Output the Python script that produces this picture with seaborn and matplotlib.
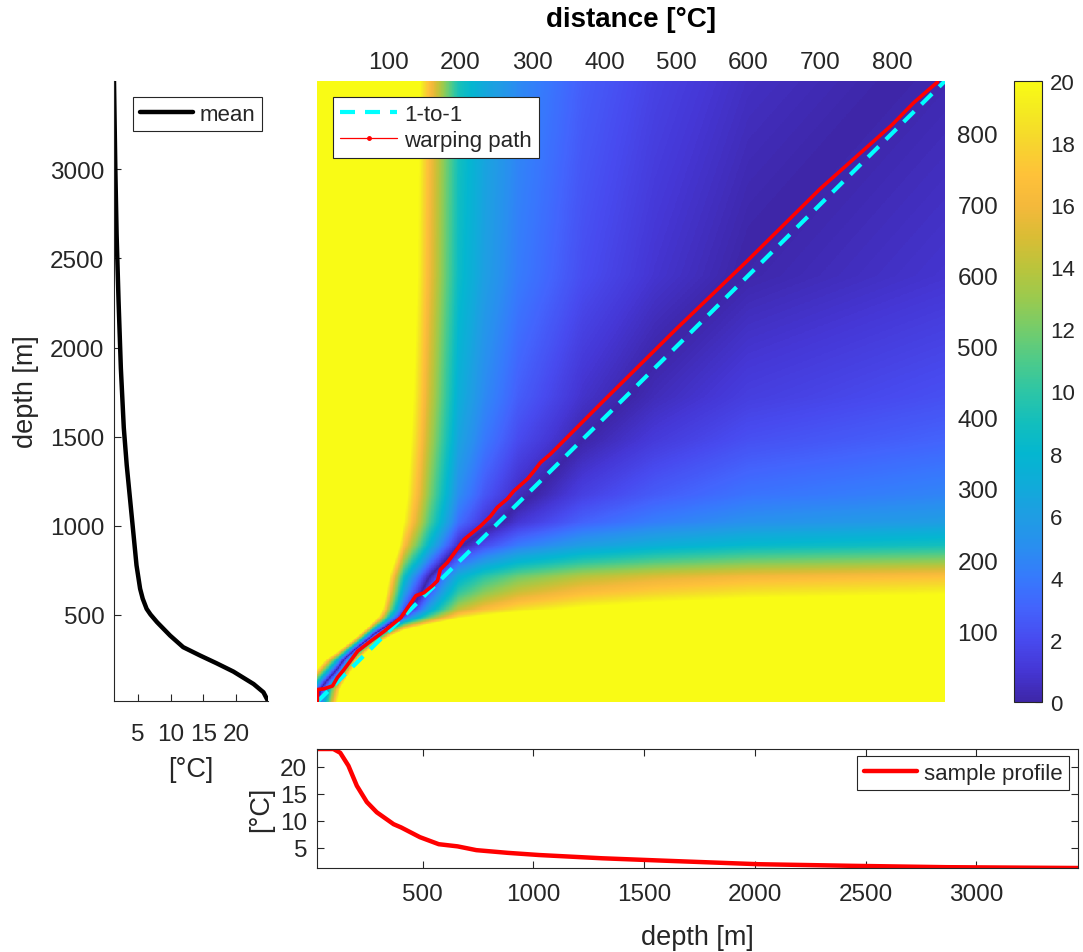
import numpy as np
import pandas as pd
import matplotlib
matplotlib.use("Agg")
import matplotlib.pyplot as plt
import seaborn as sns
from matplotlib.colors import LinearSegmentedColormap
from matplotlib.lines import Line2D

# ---------------- data ----------------
mean_depth = [17, 66, 112, 182, 229, 272, 319, 384, 459, 502, 534, 591, 647, 778, 966,
              1153, 1340, 1550, 1884, 2259, 2634, 3009, 3495]
mean_temp = [24.9, 24.2, 22.7, 19.6, 17.0, 14.5, 11.9, 9.9, 7.9, 6.9, 6.3, 5.7, 5.3, 4.75,
             4.25, 3.75, 3.25, 2.8, 2.35, 2.0, 1.7, 1.5, 1.3]

sample_depth = [22, 96, 127, 164, 202, 247, 292, 368, 402, 487, 572, 657, 742,
                884, 1025, 1309, 1592, 2017, 2442, 2867, 3460]
sample_temp = [23.3, 23.3, 22.6, 20.2, 16.5, 13.5, 11.6, 9.4, 8.8, 7.0, 5.7, 5.3, 4.6,
               4.1, 3.7, 3.1, 2.65, 2.0, 1.7, 1.45, 1.3]

# distance-matrix coordinates (level index -> value, °C)
n_levels = 873
mean_levels = [1, 18, 30, 44, 60, 75, 91, 105, 110, 119, 131, 145, 155, 176, 197,
               221, 253, 292, 370, 430, 600, 873]
mean_values = [122, 119, 113, 104, 94, 78, 58, 42, 36.5, 28.5, 23.5, 21, 19.5, 17,
               13, 9, 6, 4.5, 3, 2.2, 0.9, 0.2]
sample_levels = [1, 15, 29, 40, 50, 60, 70, 80, 91, 103, 121, 133, 144, 156, 177,
                 197, 233, 280, 370, 470, 600, 873]
sample_values = [122, 112, 102, 92, 82, 72, 62, 52, 44, 35.5, 26, 22.5, 20, 17, 13,
                 9.5, 7, 5, 3, 1.8, 0.8, 0]

# warping path (sample index, mean index)
path_x = [1, 1, 10, 22, 29, 38, 57, 75, 94, 117, 138, 149, 161, 168, 172, 182, 195,
          205, 228, 242, 251, 265, 274, 293, 302, 311, 325, 400, 500, 600, 700, 800,
          830, 863]
path_y = [1, 18, 19, 23, 35, 46, 72, 86, 100, 119, 150, 154, 164, 171, 187, 197, 215,
          229, 248, 262, 274, 286, 297, 314, 325, 337, 349, 425, 525, 622, 722, 812,
          843, 872]

index_ticks = [100, 200, 300, 400, 500, 600, 700, 800]
cbar_ticks = [0, 2, 4, 6, 8, 10, 12, 14, 16, 18, 20]
clim = (0, 20)
left_yticks = [500, 1000, 1500, 2000, 2500, 3000]
left_xticks = [5, 10, 15, 20]
bottom_xticks = [500, 1000, 1500, 2000, 2500, 3000]
bottom_yticks = [5, 10, 15, 20]

parula_pos = [0.0, 0.05, 0.10, 0.15, 0.20, 0.25, 0.30, 0.35, 0.40, 0.45, 0.50,
              0.55, 0.60, 0.65, 0.70, 0.75, 0.80, 0.85, 0.90, 0.95, 1.0]
parula_rgb = [(0.2422, 0.1504, 0.6603), (0.2706, 0.2147, 0.8364), (0.2810, 0.2950, 0.9400),
              (0.2640, 0.3890, 0.9910), (0.2106, 0.4790, 0.9900), (0.1600, 0.5600, 0.9400),
              (0.1200, 0.6180, 0.8900), (0.0600, 0.6710, 0.8500), (0.0150, 0.7150, 0.8150),
              (0.0740, 0.7470, 0.7400), (0.1770, 0.7750, 0.6500), (0.3030, 0.7950, 0.5400),
              (0.4540, 0.8010, 0.4200), (0.6030, 0.7930, 0.3080), (0.7320, 0.7690, 0.2330),
              (0.8530, 0.7390, 0.2080), (0.9570, 0.7240, 0.2330), (0.9960, 0.7580, 0.2250),
              (0.9690, 0.8330, 0.1820), (0.9560, 0.9130, 0.1320), (0.9769, 0.9839, 0.0805)]
parula = LinearSegmentedColormap.from_list("parula", list(zip(parula_pos, parula_rgb)), N=256)

# ---------------- derived matrix ----------------
lev = np.arange(1, n_levels + 1)
f_mean = np.interp(lev, mean_levels, mean_values)
g_sample = np.interp(lev, sample_levels, sample_values)
cost = np.abs(f_mean[:, None] - g_sample[None, :])

# ---------------- style ----------------
sns.set_style("white")
plt.rcParams['font.family'] = ['Liberation Sans', 'DejaVu Sans']
TXT = '#262626'
plt.rcParams.update({'axes.edgecolor': TXT, 'axes.linewidth': 0.8,
                     'xtick.color': TXT, 'ytick.color': TXT,
                     'axes.labelcolor': TXT, 'text.color': TXT})
TICK_FS = 17.5
LAB_FS = 19.5
LEG_FS = 16

W, H = 1083, 953
fig = plt.figure(figsize=(W / 100, H / 100), dpi=100)

def fax(l, t, r, b):
    return [l / W, 1 - b / H, (r - l) / W, (b - t) / H]

ax = fig.add_axes(fax(317, 82, 945, 703))
cax = fig.add_axes(fax(1014, 82, 1042, 703))
axL = fig.add_axes(fax(114, 82, 268, 702))
axB = fig.add_axes(fax(317, 750, 1078, 869))

# ---------------- heatmap ----------------
sns.heatmap(cost, ax=ax, cmap=parula, vmin=clim[0], vmax=clim[1], cbar_ax=cax,
            xticklabels=False, yticklabels=False, rasterized=True,
            cbar_kws={'ticks': cbar_ticks})
ax.set_xlim(0, n_levels)
ax.set_ylim(0, n_levels)
ax.xaxis.tick_top()
ax.yaxis.tick_right()
ax.set_xticks([k - 0.5 for k in index_ticks])
ax.set_xticklabels([str(k) for k in index_ticks], fontsize=TICK_FS)
ax.set_yticks([k - 0.5 for k in index_ticks])
ax.set_yticklabels([str(k) for k in index_ticks], fontsize=TICK_FS)
ax.tick_params(axis='y', length=0, pad=9)
ax.tick_params(axis='x', length=0, pad=6)
for s in ax.spines.values():
    s.set_visible(False)

one = pd.DataFrame({'x': [0, n_levels], 'y': [0, n_levels]})
sns.lineplot(data=one, x='x', y='y', ax=ax, color=(0, 1, 1), lw=3,
             legend=False).lines[-1].set_dashes((3.6, 2.4))
wp = pd.DataFrame({'x': np.array(path_x) - 0.5, 'y': np.array(path_y) - 0.5})
sns.lineplot(data=wp, x='x', y='y', ax=ax, color='red', lw=2.6, sort=False,
             estimator=None, legend=False)
ax.set_xlabel('')
ax.set_ylabel('')
handles = [Line2D([], [], color=(0, 1, 1), lw=3, dashes=(3.6, 2.4)),
           Line2D([], [], color='red', lw=0.9, marker='.', markersize=5)]
leg = ax.legend(handles, ['1-to-1', 'warping path'], loc='upper left',
                bbox_to_anchor=((333 - 317) / 628, (703 - 98) / 621),
                borderaxespad=0, fontsize=LEG_FS, fancybox=False, framealpha=1,
                edgecolor=TXT, handlelength=2.6, handletextpad=0.3,
                borderpad=0.3, labelspacing=0.25)
leg.get_frame().set_linewidth(0.8)
fig.text((317 + 945) / 2 / W, 1 - 20 / H, 'distance [°C]', ha='center',
         va='center', fontsize=LAB_FS + 0.5, fontweight='bold', color='k')

# colorbar
cax.tick_params(axis='y', direction='in', length=5, labelsize=TICK_FS - 1.5,
                color=TXT, pad=6, right=True, left=False)
cb = ax.collections[0].colorbar
cb.outline.set_edgecolor(TXT)
cb.outline.set_linewidth(0.8)

# ---------------- left profile ----------------
sns.lineplot(x=mean_temp, y=mean_depth, ax=axL, color='k', lw=3.2, sort=False,
             estimator=None, label='mean')
axL.set_xlim(min(mean_temp), max(mean_temp))
axL.set_ylim(min(mean_depth), max(mean_depth))
axL.set_xticks(left_xticks)
axL.set_yticks(left_yticks)
axL.tick_params(axis='both', direction='in', length=5, labelsize=TICK_FS,
                color=TXT, left=True, bottom=True, pad=7)
axL.tick_params(axis='x', pad=15.5)
axL.spines['top'].set_visible(False)
axL.spines['right'].set_visible(False)
axL.set_xlabel('[°C]', fontsize=LAB_FS, labelpad=8)
axL.set_ylabel('depth [m]', fontsize=LAB_FS, labelpad=8)
leg = axL.legend(loc='upper left', bbox_to_anchor=((133 - 114) / 154, (702 - 98) / 620),
                 borderaxespad=0, fontsize=LEG_FS, fancybox=False, framealpha=1,
                 edgecolor=TXT, handlelength=2.4, handletextpad=0.3, borderpad=0.3)
leg.get_frame().set_linewidth(0.8)

# ---------------- bottom profile ----------------
sns.lineplot(x=sample_depth, y=sample_temp, ax=axB, color='red', lw=3.2, sort=False,
             estimator=None, label='sample profile')
axB.set_xlim(min(sample_depth), max(sample_depth))
axB.set_ylim(min(sample_temp), max(sample_temp))
axB.set_xticks(bottom_xticks)
axB.set_yticks(bottom_yticks)
axB.tick_params(axis='both', direction='in', length=5, labelsize=TICK_FS,
                color=TXT, left=True, bottom=True, top=True, right=True, pad=7)
axB.tick_params(axis='x', pad=10.5)
axB.set_xlabel('depth [m]', fontsize=LAB_FS, labelpad=14)
axB.set_ylabel('[°C]', fontsize=LAB_FS, labelpad=4)
leg = axB.legend(loc='upper right', bbox_to_anchor=((1069 - 317) / 761, (869 - 757) / 119),
                 borderaxespad=0, fontsize=LEG_FS, fancybox=False, framealpha=1,
                 edgecolor=TXT, handlelength=2.4, handletextpad=0.3, borderpad=0.3)
leg.get_frame().set_linewidth(0.8)

fig.savefig('out.png', dpi=100)
